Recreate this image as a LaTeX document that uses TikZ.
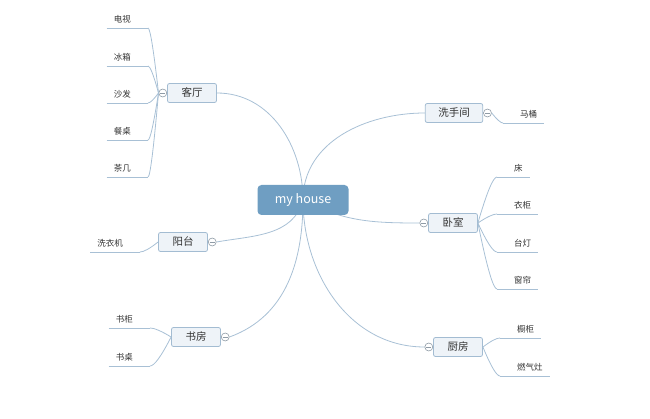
\documentclass[tikz,border=0pt]{standalone}
\usepackage{fontspec}
\setmainfont{Noto Sans CJK SC}
\usetikzlibrary{positioning,calc,backgrounds}
\definecolor{linkblue}{HTML}{A8C0D5}
\definecolor{topicfill}{HTML}{EEF3F8}
\definecolor{topicline}{HTML}{A3BCD2}
\definecolor{rootfill}{HTML}{6F9EC2}
\definecolor{foldgray}{HTML}{8F9BA6}
\definecolor{inkgray}{HTML}{333333}

\begin{document}
\begin{tikzpicture}[x=1pt,y=-1pt]
\tikzstyle{root}=[rectangle,rounded corners=4pt,fill=rootfill,text=white,
minimum width=91pt,minimum height=30pt,font=\fontsize{12.5}{14}\selectfont]
\tikzstyle{topic}=[rectangle,rounded corners=2pt,draw=topicline,fill=topicfill,line width=0.8pt,
minimum width=49pt,minimum height=19pt,inner xsep=13pt,inner ysep=0pt,
text height=8.5pt,text depth=1.5pt,text=inkgray,font=\fontsize{10.5}{12}\selectfont]
\tikzstyle{fold}=[circle,draw=foldgray,fill=white,line width=0.6pt,minimum size=8pt,inner sep=0pt,
path picture={\draw[foldgray,line width=0.6pt] ([xshift=1.5pt]path picture bounding box.west) -- ([xshift=-1.5pt]path picture bounding box.east);}]
\tikzstyle{leafl}=[anchor=south east,inner xsep=7pt,inner ysep=4pt,text height=7.5pt,text depth=1.5pt,
text=inkgray,font=\fontsize{8.5}{10}\selectfont,execute at end node={\hspace{10pt}}]
\tikzstyle{leafr}=[anchor=south west,inner xsep=7pt,inner ysep=4pt,text height=7.5pt,text depth=1.5pt,
text=inkgray,font=\fontsize{8.5}{10}\selectfont,execute at begin node={\hspace{10pt}}]
\tikzstyle{link}=[draw=linkblue,line width=0.8pt]
\tikzstyle{twig}=[to path={let \p1=(\tikztostart),\p2=(\tikztotarget) in
.. controls ({\x1+0.467*(\x2-\x1)},{\y1+0.667*(\y2-\y1)}) and ({\x2-0.2*(\x2-\x1)},\y2) .. (\tikztotarget)}]

\useasboundingbox (0,0) rectangle (650,419);

\node[root] at (303,200) (house) {my house};

\node[topic] at (192,93) (living) {客厅};
\node[fold,left=0pt of living] (livingf) {};
\node[topic] at (454,113) (wash) {洗手间};
\node[fold,right=0pt of wash] (washf) {};
\node[topic] at (453,223) (bed) {卧室};
\node[fold,left=0pt of bed] (bedf) {};
\node[topic] at (183,242) (balc) {阳台};
\node[fold,right=0pt of balc] (balcf) {};
\node[topic] at (196,337) (study) {书房};
\node[fold,right=0pt of study] (studyf) {};
\node[topic] at (458,347) (kitchen) {厨房};
\node[fold,left=0pt of kitchen] (kitchenf) {};

\node[leafl] at (148,28) (tv) {电视};
\node[leafl] at (148,66) (fridge) {冰箱};
\node[leafl] at (148,103) (sofa) {沙发};
\node[leafl] at (148,140) (dining) {餐桌};
\node[leafl] at (148,177) (teatable) {茶几};
\node[leafl] at (140,252) (washer) {洗衣机};
\node[leafl] at (150,328) (shelf) {书柜};
\node[leafl] at (150,366) (desk) {书桌};

\node[leafr] at (503,123) (toilet) {马桶};
\node[leafr] at (497,177) (bedd) {床};
\node[leafr] at (497,214) (wardrobe) {衣柜};
\node[leafr] at (497,252) (lamp) {台灯};
\node[leafr] at (497,289) (curtain) {窗帘};
\node[leafr] at (500,338) (cupboard) {橱柜};
\node[leafr] at (500,376) (stove) {燃气灶};

\begin{scope}[on background layer]
\path[link] (house.center) edge[out=90,in=0] (living.east);
\path[link] (house.center) edge[out=90,in=180] (wash.west);
\path[link] (house.center) edge[out=-28,in=180] (bedf.west);
\path[link] (house.center) edge[out=-105,in=10] (balcf.east);
\path[link] (house.center) edge[out=-90,in=20] (studyf.east);
\path[link] (house.center) edge[out=-90,in=180] (kitchenf.west);
\end{scope}

\foreach \n in {tv,fridge,sofa,dining,teatable,washer,shelf,desk,
toilet,bedd,wardrobe,lamp,curtain,cupboard,stove}
\draw[link] (\n.south west) -- (\n.south east);

\path[link] (livingf.west) edge[twig] (tv.south east);
\path[link] (livingf.west) edge[twig] (fridge.south east);
\path[link] (livingf.west) edge[twig] (sofa.south east);
\path[link] (livingf.west) edge[twig] (dining.south east);
\path[link] (livingf.west) edge[twig] (teatable.south east);
\path[link] (washf.east) edge[twig] (toilet.south west);
\path[link] (bed.east) edge[twig] (bedd.south west);
\path[link] (bed.east) edge[twig] (wardrobe.south west);
\path[link] (bed.east) edge[twig] (lamp.south west);
\path[link] (bed.east) edge[twig] (curtain.south west);
\path[link] (balc.west) edge[twig] (washer.south east);
\path[link] (study.west) edge[twig] (shelf.south east);
\path[link] (study.west) edge[twig] (desk.south east);
\path[link] (kitchen.east) edge[twig] (cupboard.south west);
\path[link] (kitchen.east) edge[twig] (stove.south west);

\end{tikzpicture}
\end{document}
